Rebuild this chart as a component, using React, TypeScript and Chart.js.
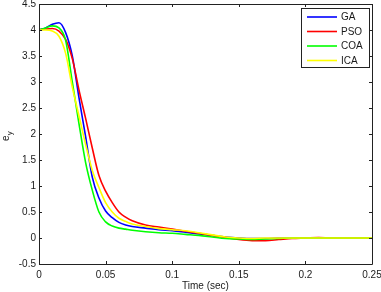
import React, { useEffect, useRef } from "react";
import { Chart, registerables } from "chart.js";

Chart.register(...registerables);

const time = [0, 0.005, 0.01, 0.015, 0.02, 0.025, 0.03, 0.035, 0.04, 0.045, 0.05, 0.055, 0.06, 0.065, 0.07, 0.08, 0.09, 0.1, 0.11, 0.12, 0.13, 0.14, 0.15, 0.16, 0.17, 0.18, 0.19, 0.2, 0.21, 0.22, 0.23, 0.24, 0.25];
const GA = [4.0, 4.04, 4.11, 4.14, 3.95, 3.5, 2.7, 1.95, 1.17, 0.77, 0.52, 0.39, 0.3, 0.25, 0.22, 0.19, 0.16, 0.14, 0.11, 0.08, 0.05, 0.02, 0.0, -0.01, -0.01, 0.0, 0.0, 0.0, 0.0, 0.0, 0.0, 0.0, 0.0];
const PSO = [4.0, 4.02, 4.03, 3.98, 3.82, 3.45, 2.85, 2.3, 1.73, 1.2, 0.9, 0.68, 0.5, 0.4, 0.33, 0.25, 0.21, 0.17, 0.13, 0.09, 0.05, 0.01, -0.03, -0.05, -0.05, -0.03, -0.01, 0.0, 0.01, 0.0, 0.0, 0.0, 0.0];
const COA = [4.0, 4.04, 4.08, 4.04, 3.8, 3.0, 2.2, 1.45, 0.92, 0.5, 0.31, 0.23, 0.19, 0.17, 0.15, 0.12, 0.1, 0.09, 0.07, 0.05, 0.02, -0.01, -0.02, -0.03, -0.02, -0.01, 0.0, 0.0, 0.0, 0.0, 0.0, 0.0, 0.0];
const ICA = [4.0, 4.0, 3.98, 3.88, 3.55, 2.9, 2.35, 1.8, 1.3, 0.97, 0.68, 0.5, 0.38, 0.32, 0.27, 0.22, 0.18, 0.16, 0.14, 0.1, 0.06, 0.02, 0.0, -0.01, 0.0, 0.0, 0.0, 0.0, 0.0, 0.0, 0.0, 0.0, 0.0];

const seriesNames = ["GA", "PSO", "COA", "ICA"];
const seriesValues = [GA, PSO, COA, ICA];
const seriesColors = ["#0000ff", "#ff0000", "#00ff00", "#ffff00"];

const xTitle = "Time (sec)";
const FONT = "'Liberation Sans', Arial, sans-serif";
const TEXT = "#1a1a1a";

const fmt = (v: number) => String(parseFloat(Number(v).toFixed(3)));

const framePlugin = {
  id: "frame",
  afterDatasetsDraw(chart: any) {
    const { ctx, chartArea: a, scales } = chart;
    ctx.save();
    ctx.strokeStyle = "#222";
    ctx.lineWidth = 1;
    ctx.beginPath();
    ctx.rect(Math.round(a.left) + 0.5, Math.round(a.top) + 0.5, Math.round(a.right - a.left), Math.round(a.bottom - a.top));
    ctx.stroke();
    const tl = 3;
    ctx.beginPath();
    scales.x.ticks.forEach((t: any) => {
      const px = Math.round(scales.x.getPixelForValue(t.value)) + 0.5;
      ctx.moveTo(px, a.bottom);
      ctx.lineTo(px, a.bottom - tl);
      ctx.moveTo(px, a.top);
      ctx.lineTo(px, a.top + tl);
    });
    scales.y.ticks.forEach((t: any) => {
      const py = Math.round(scales.y.getPixelForValue(t.value)) + 0.5;
      ctx.moveTo(a.left, py);
      ctx.lineTo(a.left + tl, py);
      ctx.moveTo(a.right, py);
      ctx.lineTo(a.right - tl, py);
    });
    ctx.stroke();

    // legend
    const lx = 301, ly = 8, lw = 68, lh = 59;
    ctx.fillStyle = "#fff";
    ctx.fillRect(lx, ly, lw, lh);
    ctx.strokeStyle = "#222";
    ctx.strokeRect(lx + 0.5, ly + 0.5, lw, lh);
    ctx.font = `10px ${FONT}`;
    ctx.textBaseline = "middle";
    ctx.textAlign = "left";
    chart.data.datasets.forEach((ds: any, i: number) => {
      const y = ly + 9 + i * 14.5;
      ctx.strokeStyle = ds.borderColor;
      ctx.lineWidth = 1.6;
      ctx.beginPath();
      ctx.moveTo(307, y);
      ctx.lineTo(337, y);
      ctx.stroke();
      ctx.fillStyle = TEXT;
      ctx.fillText(ds.label, 341, y + 0.5);
    });

    // y axis label e_y
    ctx.save();
    ctx.translate(9, 141);
    ctx.rotate(-Math.PI / 2);
    ctx.fillStyle = TEXT;
    ctx.textBaseline = "alphabetic";
    ctx.font = `10px ${FONT}`;
    ctx.fillText("e", 0, 0);
    ctx.font = `8px ${FONT}`;
    ctx.fillText("y", 5.8, 3);
    ctx.restore();
    ctx.restore();
  },
};

export default function App() {
  const ref = useRef<HTMLCanvasElement>(null);
  useEffect(() => {
    document.body.style.margin = "0";
    const canvas = ref.current!;
    const chart = new Chart(canvas, {
      type: "line",
      data: {
        datasets: seriesNames.map((name, i) => ({
          label: name,
          data: time.map((t, j) => ({ x: t, y: seriesValues[i][j] })),
          borderColor: seriesColors[i],
          backgroundColor: seriesColors[i],
          borderWidth: 1.6,
          pointRadius: 0,
          tension: 0,
          cubicInterpolationMode: "monotone" as const,
          order: seriesNames.length - i,
        })),
      },
      options: {
        animation: false,
        responsive: false,
        events: [],
        layout: { padding: { top: 4, right: 9, left: 0, bottom: 0 } },
        plugins: { legend: { display: false }, tooltip: { enabled: false } },
        scales: {
          x: {
            type: "linear",
            min: 0,
            max: 0.25,
            grid: { drawOnChartArea: false, drawTicks: false },
            border: { display: false },
            ticks: { stepSize: 0.05, padding: 5, color: TEXT, font: { family: FONT, size: 10 }, callback: (v: any) => fmt(v), maxRotation: 0 },
            title: { display: true, text: xTitle, color: TEXT, font: { family: FONT, size: 10 }, padding: { top: 0, bottom: 0 } },
            afterFit: (s: any) => { s.height = 28; s.paddingLeft = 0; s.paddingRight = 0; },
          },
          y: {
            type: "linear",
            min: -0.5,
            max: 4.5,
            grid: { drawOnChartArea: false, drawTicks: false },
            border: { display: false },
            ticks: { stepSize: 0.5, padding: 3, color: TEXT, font: { family: FONT, size: 10 }, callback: (v: any) => fmt(v) },
            afterFit: (s: any) => { s.width = 39; s.paddingTop = 0; s.paddingBottom = 0; },
          },
        },
      },
      plugins: [framePlugin],
    });
    return () => chart.destroy();
  }, []);
  return (
    <div style={{ width: 381, height: 292, background: "#fff" }}>
      <canvas ref={ref} width={381} height={292} />
    </div>
  );
}
